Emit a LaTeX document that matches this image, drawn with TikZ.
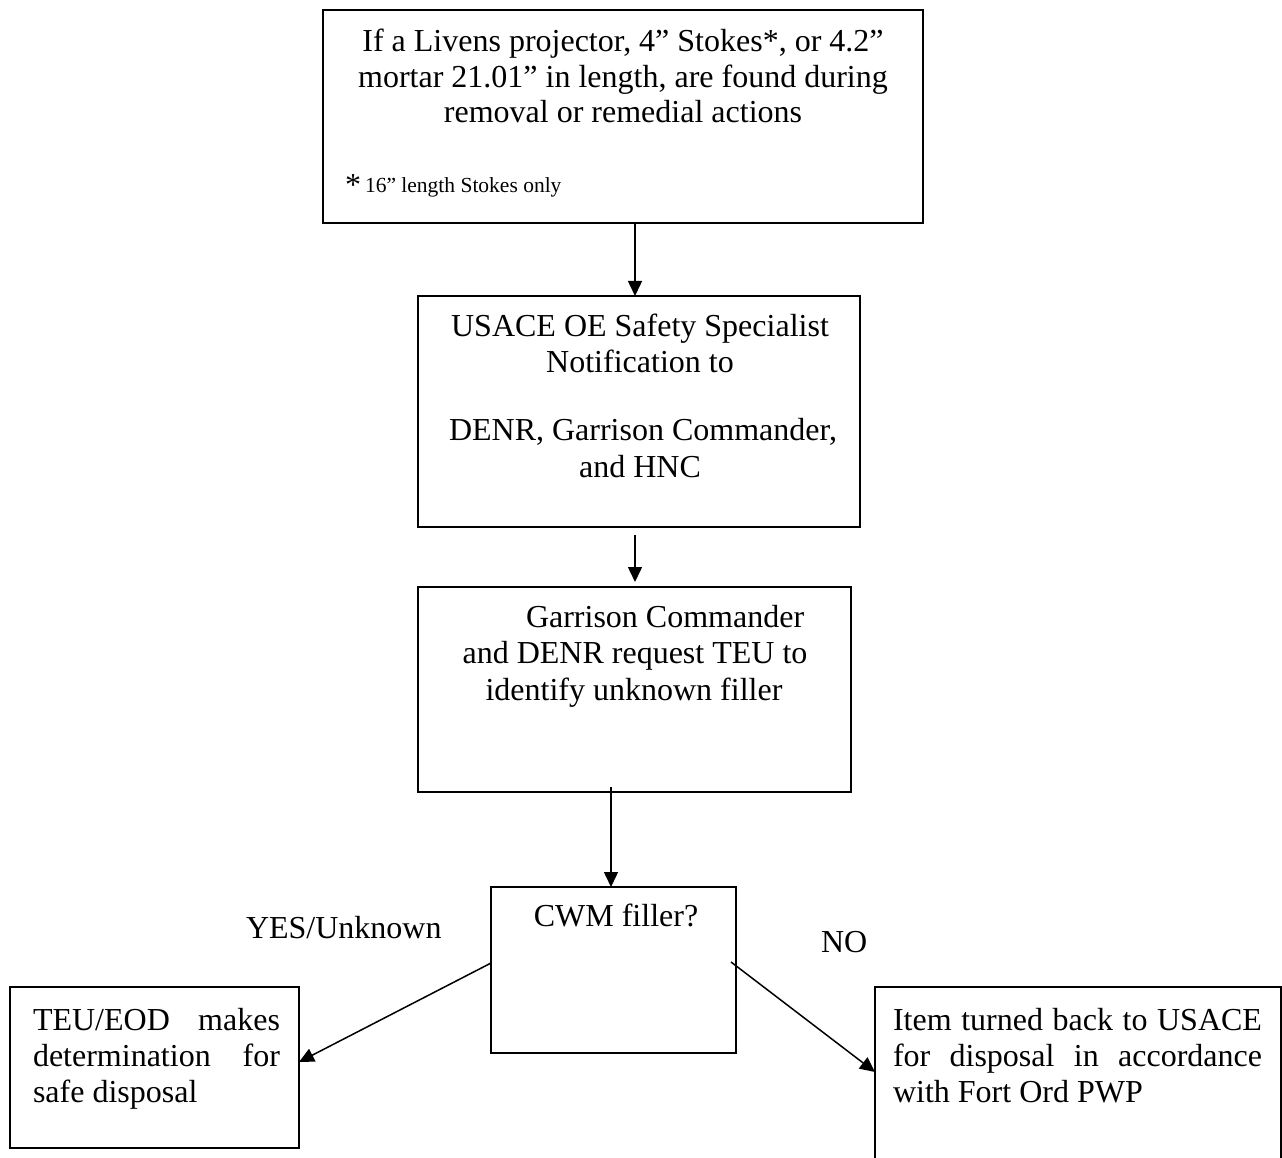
\documentclass[tikz,border=0pt]{standalone}
\usepackage{fontspec}
\setmainfont{Liberation Serif}
\usetikzlibrary{arrows.meta,calc}
\tikzset{
  box/.style={draw, line width=1.5pt, inner sep=0pt, outer sep=0pt},
  ln/.style={anchor=base, inner sep=0pt, outer sep=0pt, font=\fontsize{32pt}{37pt}\selectfont},
  lnw/.style={ln, anchor=base west},
  small/.style={anchor=base west, inner sep=0pt, outer sep=0pt, font=\fontsize{21.5pt}{25pt}\selectfont},
  arr/.style={line width=1.5pt, -{Triangle[length=15pt,width=14pt]}}
}
\begin{document}
\begin{tikzpicture}[x=1pt,y=-1pt]
\useasboundingbox (0,0) rectangle (1282,1158);
\clip (0,0) rectangle (1282,1158);
% boxes
\node[box, minimum width=600pt, minimum height=213pt] (b1) at (623,116.5) {};
\node[box, minimum width=442pt, minimum height=231pt] (b2) at (639,411.5) {};
\node[box, minimum width=433pt, minimum height=205pt] (b3) at (634.5,689.5) {};
\node[box, minimum width=245pt, minimum height=166pt] (b4) at (613.5,970) {};
\node[box, minimum width=289pt, minimum height=161pt] (b5) at (154.5,1067.5) {};
\node[box, minimum width=406pt, minimum height=213pt] (b6) at (1078,1093.5) {};
% box 1 text
\node[ln] (t1a) at (623,52) {If a Livens projector, 4” Stokes*, or 4.2”};
\node[ln] (t1b) at (623,88) {mortar 21.01” in length, are found during};
\node[ln] (t1c) at (623,123) {removal or remedial actions};
\node[lnw] (t1d) at (345,196) {*};
\node[small] (t1e) at (365,193) {16” length Stokes only};
% box 2 text
\node[ln] (t2a) at (640,336) {USACE OE Safety Specialist};
\node[ln] (t2b) at (640,372) {Notification to};
\node[ln] (t2c) at (643,440) {DENR, Garrison Commander,};
\node[ln] (t2d) at (640,477) {and HNC};
% box 3 text
\node[lnw] (t3a) at (526,627) {Garrison Commander};
\node[ln] (t3b) at (635,663) {and DENR request TEU to};
\node[ln] (t3c) at (634,700) {identify unknown filler};
% box 4 text
\node[ln] (t4) at (616,926) {CWM filler?};
% labels
\node[lnw] (yes) at (246,938) {YES/Unknown};
\node[lnw] (no) at (821,952) {NO};
% box 5 text
\node[lnw] (t5a) at (33,1030) {\makebox[247pt][s]{TEU/EOD makes}};
\node[lnw] (t5b) at (33,1066) {\makebox[247pt][s]{determination for}};
\node[lnw] (t5c) at (33,1102) {safe disposal};
% box 6 text
\node[lnw] (t6a) at (893,1030) {\makebox[369pt][s]{Item turned back to USACE}};
\node[lnw] (t6b) at (893,1066) {\makebox[369pt][s]{for disposal in accordance}};
\node[lnw] (t6c) at (893,1102) {with Fort Ord PWP};
% connectors
\coordinate (c1) at (635,0);
\coordinate (c3) at (611,0);
\draw[arr] (c1 |- b1.south) -- (c1 |- b2.north);
\draw[arr, shorten <=8pt, shorten >=5pt] (c1 |- b2.south) -- (c1 |- b3.north);
\draw[arr, shorten <=-5pt] (c3 |- b3.south) -- (c3 |- b4.north);
\draw[arr] ($(b4.north west)!0.458!(b4.south west)$) -- ($(b5.north east)!0.466!(b5.south east)$);
\draw[arr] ($(b4.north east)+(-5,75)$) -- ($(b6.north west)+(0,85)$);
\end{tikzpicture}
\end{document}
